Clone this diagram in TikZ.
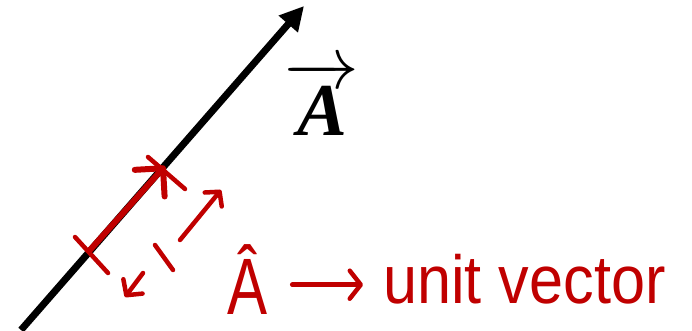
\documentclass[tikz,border=0pt]{standalone}
\usepackage{fontspec}
\usepackage{graphicx}
\newfontfamily\handfont{Liberation Sans}
\newfontfamily\vecfont{Liberation Serif}
\definecolor{InkRed}{HTML}{C00000}
\usetikzlibrary{arrows.meta, positioning}
\tikzset{
  inkline/.style={draw=InkRed, line width=4.5pt, line cap=round, line join=round},
  inkbold/.style={draw=InkRed, line width=6pt, line cap=round, line join=round},
  inkarrow/.style={inkline, -{Straight Barb[round, length=10pt, width=22pt]}},
  vecarrow/.style={draw=black, line width=7pt, -{Triangle[length=24pt, width=24pt]}},
  inktext/.style={text=InkRed, inner sep=0pt, font=\handfont}
}
\begin{document}
\begin{tikzpicture}[x=1pt, y=-1pt]
\useasboundingbox (0,0) rectangle (692,330);
\coordinate (tail) at (21,330);
\coordinate (head) at (304,6);
\draw[vecarrow] (tail) -- (head);
\node[inner sep=0pt, anchor=base, font=\vecfont\fontsize{24.88}{25}\selectfont] (veclabel) at (322,135) {\scalebox{3}{$\overrightarrow{\textbf{\textit{A}}}$}};

\draw[inkbold, -{Straight Barb[round, length=20pt, width=40pt]}] (90,250) -- (165,166);
\draw[inkline] (75,237) -- (108,273);
\draw[inkline] (148,157) -- (185,189);
\draw[inkarrow] (180,240) -- (221,190);
\draw[inkline] (155,245) -- (173,270);
\draw[inkarrow, -{Straight Barb[round, length=11pt, width=24pt]}] (143,273) -- (125,297);

\node[inktext, anchor=base, font=\handfont\fontsize{80}{80}\selectfont] (hatA) at (248,314) {\scalebox{0.75}[1]{Â}};
\node[inktext, anchor=base west, font=\handfont\fontsize{68}{68}\selectfont] (unitvec) at (383,303) {\scalebox{0.9}[1]{unit vector}};
\coordinate (arrowy) at ([yshift=-6pt]unitvec.west);
\draw[inkline, -{Straight Barb[round, length=11pt, width=28pt]}, shorten <=24pt, shorten >=20pt] (hatA.east |- arrowy) -- (arrowy);
\end{tikzpicture}
\end{document}
